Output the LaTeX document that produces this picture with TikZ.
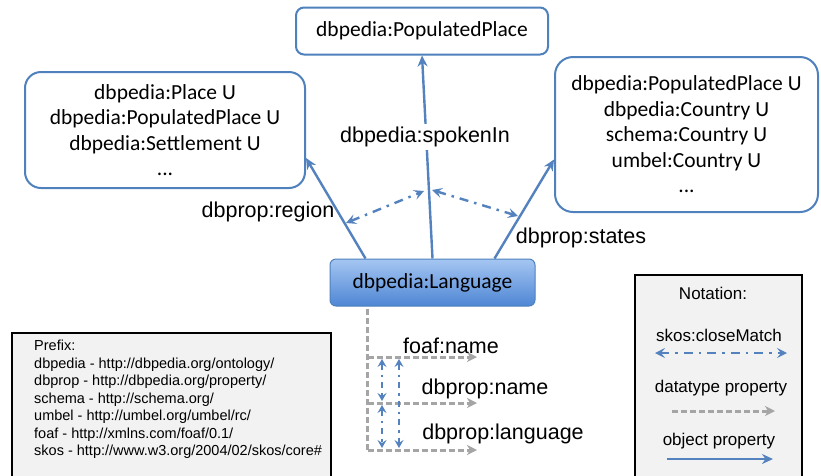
\documentclass[tikz,border=0pt]{standalone}
\usepackage{fontspec}
\setmainfont{Carlito}
\newfontfamily\arialf{Liberation Sans}
\usetikzlibrary{arrows.meta,calc}
\definecolor{obblue}{RGB}{79,129,189}
\definecolor{lnblue}{RGB}{84,130,190}
\definecolor{dtgray}{RGB}{165,165,165}
\definecolor{boxgray}{RGB}{242,242,242}
\definecolor{langtop}{RGB}{165,198,242}
\definecolor{langbot}{RGB}{78,134,212}
\begin{document}
\begin{tikzpicture}[x=1pt,y=-1pt,
  rbox/.style={draw=obblue,line width=2pt,fill=white,align=center,font=\fontsize{21.5}{25.5}\selectfont},
  obj/.style={draw=lnblue,line width=2.4pt,-{Stealth[length=11pt,width=10pt]}},
  cmatch/.style={draw=lnblue,line width=2.4pt,dash pattern=on 9pt off 6pt on 2.5pt off 6pt,{Stealth[length=10pt,width=10pt,inset=4pt]}-{Stealth[length=10pt,width=10pt,inset=4pt]}},
  cmv/.style={draw=lnblue,line width=2.2pt,dash pattern=on 6pt off 5pt on 2.5pt off 5pt,{Stealth[length=8pt,width=9pt,inset=3pt]}-{Stealth[length=8pt,width=9pt,inset=3pt]}},
  dtype/.style={draw=dtgray,line width=3pt,dash pattern=on 6pt off 3pt},
  dtarrow/.style={dtype,-{Stealth[length=10pt,width=10pt,inset=3pt]}},
  lbl/.style={font=\arialf\fontsize{21.5}{24}\selectfont,inner sep=1pt},
  legbox/.style={draw=black,line width=2.2pt,fill=boxgray},
  small/.style={font=\arialf\fontsize{14.5}{17.5}\selectfont,align=left,inner sep=0pt},
  ntext/.style={font=\arialf\fontsize{17}{20}\selectfont,inner sep=0pt}
]
\path[use as bounding box,clip] (0,0) rectangle (821,475);
\fill[white] (0,0) rectangle (821,475);

% nodes
\node[rbox,rounded corners=8pt,minimum width=252pt,minimum height=47pt] (top) at (422,31) {dbpedia:PopulatedPlace};
\node[rbox,rounded corners=16pt,minimum width=280pt,minimum height=116pt] (left) at (165,130)
  {dbpedia:Place U\\dbpedia:PopulatedPlace U\\dbpedia:Settlement U\\...};
\node[rbox,rounded corners=18pt,minimum width=263pt,minimum height=155pt] (right) at (686.5,134.5)
  {dbpedia:PopulatedPlace U\\dbpedia:Country U\\schema:Country U\\umbel:Country U\\...};
\node[draw=obblue,line width=1pt,rounded corners=6pt,top color=langtop,bottom color=langbot,
  minimum width=205pt,minimum height=47pt,font=\fontsize{21.5}{25}\selectfont] (lang) at (432.5,282.5) {dbpedia:Language};

% object properties
\draw[obj] ([xshift=-67pt]lang.north) -- ([yshift=-28pt]left.east);
\draw[obj] (lang.north) -- (top.south);
\draw[obj] ([xshift=62pt]lang.north) -- ([yshift=-25pt]right.west);

\node[lbl,fill=white,inner sep=3pt] (spoken) at (425,137) {dbpedia:spokenIn};
\node[lbl] (region) at (268,212) {dbprop:region};
\node[lbl] (states) at (581,238) {dbprop:states};

% closeMatch between object properties
\coordinate (cm1a) at (346,223);
\coordinate (cm1b) at (424,191);
\coordinate (cm2a) at (432,190);
\coordinate (cm2b) at (518,216);
\draw[cmatch] (cm1a) -- (cm1b);
\draw[cmatch] (cm2a) -- (cm2b);

% datatype properties
\coordinate (d0) at ([xshift=-65pt]lang.south);
\coordinate (d1) at (367.5,357);
\coordinate (d2) at (367.5,403);
\coordinate (d3) at (367.5,450);
\coordinate (e1) at (477,357);
\coordinate (e2) at (477,403);
\coordinate (e3) at (477,450);
\draw[dtype] ([yshift=-2pt]d0) -- (d3);
\draw[dtarrow] (d1) -- (e1);
\draw[dtarrow] (d2) -- (e2);
\draw[dtarrow] (d3) -- (e3);
\node[lbl] (fname) at (451,346) {foaf:name};
\node[lbl] (dpname) at (485,389) {dbprop:name};
\node[lbl] (dplang) at (503,434) {dbprop:language};

% closeMatch between datatype properties
\coordinate (v1a) at (382,359);
\coordinate (v1b) at (382,401);
\coordinate (v2a) at (382,405);
\coordinate (v2b) at (382,448);
\coordinate (v3a) at (399,359);
\coordinate (v3b) at (399,448);
\draw[cmv] (v1a) -- (v1b);
\draw[cmv] (v2a) -- (v2b);
\draw[cmv] (v3a) -- (v3b);

% prefix box
\draw[legbox] (12,333) rectangle (331,490);
\node[small,anchor=north west] (prefix) at (34,340) {Prefix:\\
dbpedia - http://dbpedia.org/ontology/\\
dbprop - http://dbpedia.org/property/\\
schema - http://schema.org/\\
umbel - http://umbel.org/umbel/rc/\\
foaf - http://xmlns.com/foaf/0.1/\\
skos - http://www.w3.org/2004/02/skos/core\#};

% notation box
\draw[legbox] (635,275) rectangle (802,490);
\node[ntext] (nt) at (713,293) {Notation:};
\node[ntext] (nskos) at (719,335) {skos:closeMatch};
\node[ntext] (ndt) at (721,388) {datatype property};
\node[ntext] (nob) at (719,441) {object property};
\coordinate (n1a) at (655,353);
\coordinate (n1b) at (787,353);
\coordinate (n2a) at (672,411);
\coordinate (n2b) at (775,411);
\coordinate (n3a) at (667,459);
\coordinate (n3b) at (773,459);
\draw[cmatch] (n1a) -- (n1b);
\draw[dtarrow] (n2a) -- (n2b);
\draw[obj] (n3a) -- (n3b);
\end{tikzpicture}
\end{document}
